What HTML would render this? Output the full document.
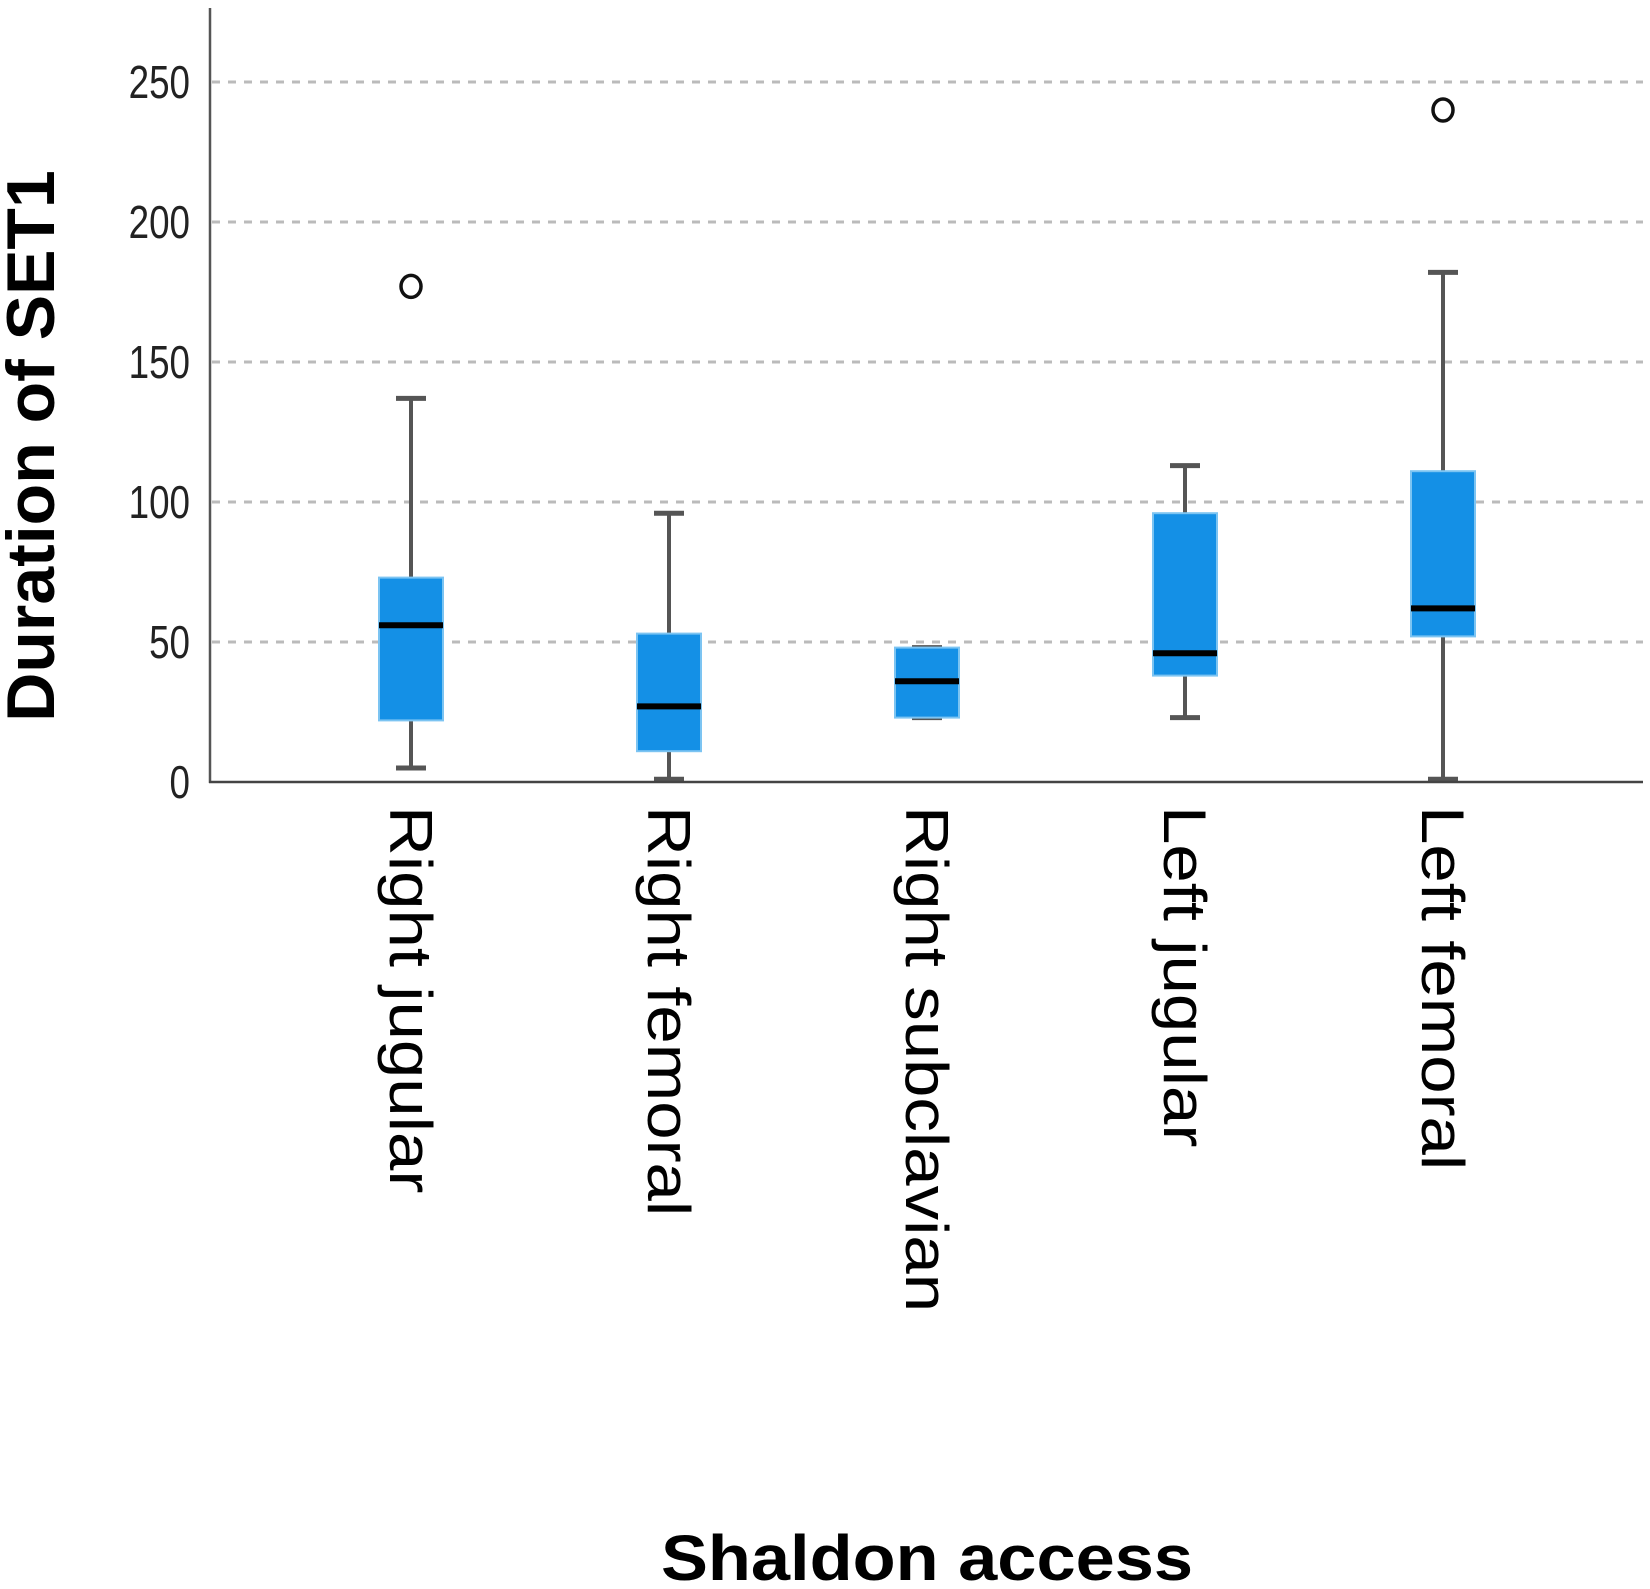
<!DOCTYPE html>
<html><head><meta charset="utf-8"><style>
body{margin:0;background:#fff}
svg{display:block}
</style></head><body>
<svg id="chart" width="1650" height="1589" viewBox="0 0 1650 1589" xmlns="http://www.w3.org/2000/svg" font-family="Liberation Sans, sans-serif">
<g id="grid"></g>
<g id="ticks"></g>
<g id="boxes"></g>
<g id="xlabels"></g>
<line x1="210" y1="8" x2="210" y2="783" stroke="#555" stroke-width="2.5"/>
<line x1="209" y1="782" x2="1643" y2="782" stroke="#444" stroke-width="2.5"/>
<text transform="translate(54,446) rotate(-90)" text-anchor="middle" font-size="68" font-weight="bold">Duration of SET1</text>
<text transform="translate(927,1580) scale(1.1,1)" text-anchor="middle" font-size="64" font-weight="bold">Shaldon access</text>
</svg>
<script>
const categories = ["Right jugular","Right femoral","Right subclavian","Left jugular","Left femoral"];
const whiskerLow = [5, 1, 23, 23, 1];
const q1 = [22, 11, 23, 38, 52];
const median = [56, 27, 36, 46, 62];
const q3 = [73, 53, 48, 96, 111];
const whiskerHigh = [137, 96, 48, 113, 182];
const outliers = [[177], [], [], [], [240]];
const yTicks = [0, 50, 100, 150, 200, 250];

const NS = "http://www.w3.org/2000/svg";
const y = v => 782 - v * 2.8;
const x = i => 411 + i * 258;
function mk(tag, attrs, parent) {
  const e = document.createElementNS(NS, tag);
  for (const k in attrs) e.setAttribute(k, attrs[k]);
  parent.appendChild(e);
  return e;
}
const grid = document.getElementById('grid'), ticks = document.getElementById('ticks'),
      boxes = document.getElementById('boxes'), xl = document.getElementById('xlabels');
yTicks.forEach(t => {
  if (t > 0) {
    const g = mk('line', {x1: 212, x2: 1643, y1: y(t), y2: y(t), stroke: '#bbb', 'stroke-width': 3, 'stroke-dasharray': '8 8'}, grid);
    
    
  }
  const tx = mk('text', {'text-anchor': 'end', 'font-size': 46, fill: '#222', transform: `translate(190,${y(t) + 16}) scale(0.8,1)`}, ticks);
  tx.textContent = t;
  
  
});
categories.forEach((c, i) => {
  const cx = x(i), hw = 32;
  const g = mk('g', {}, boxes);
  
  
  mk('line', {x1: cx, x2: cx, y1: y(whiskerHigh[i]), y2: y(whiskerLow[i]), stroke: '#555', 'stroke-width': 4}, g);
  mk('line', {x1: cx - 15, x2: cx + 15, y1: y(whiskerHigh[i]), y2: y(whiskerHigh[i]), stroke: '#555', 'stroke-width': 5}, g);
  mk('line', {x1: cx - 15, x2: cx + 15, y1: y(whiskerLow[i]), y2: y(whiskerLow[i]), stroke: '#555', 'stroke-width': 5}, g);
  mk('rect', {x: cx - hw, y: y(q3[i]), width: hw * 2, height: y(q1[i]) - y(q3[i]), fill: '#1490e6', stroke: '#7cc4f2', 'stroke-width': 2}, g);
  mk('line', {x1: cx - hw, x2: cx + hw, y1: y(median[i]), y2: y(median[i]), stroke: '#000', 'stroke-width': 6}, g);
  outliers[i].forEach(o => {
    const p = mk('ellipse', {cx: cx, cy: y(o), rx: 10, ry: 11, fill: 'none', stroke: '#111', 'stroke-width': 3.5}, g);
    
    
  });
  const t = mk('text', {transform: `translate(${cx - 21},806) rotate(90) scale(1.15,1)`, 'font-size': 60, fill: '#000'}, xl);
  t.textContent = c;
  
  
});
</script>
</body></html>
